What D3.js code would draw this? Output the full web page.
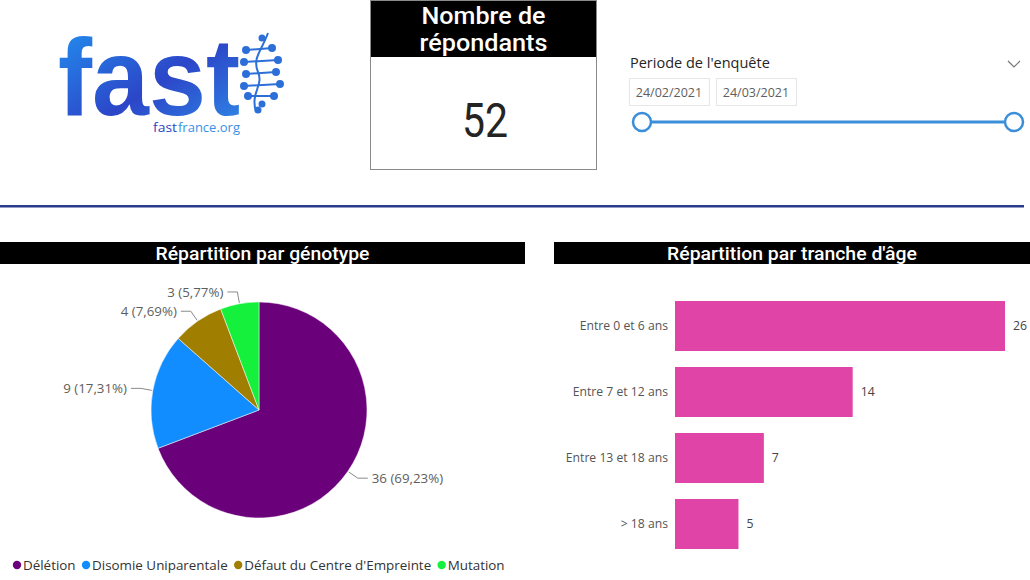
<!DOCTYPE html>
<html><head><meta charset="utf-8">
<script src="https://cdn.jsdelivr.net/npm/d3@7/dist/d3.min.js"></script>
<style>
html,body{margin:0;padding:0;background:#fff;}
svg{display:block;}
</style></head>
<body>
<svg id="chart" width="1030" height="580"></svg>
<script>
// ---------- data ----------
const kpiTitle = ["Nombre de", "répondants"];
const kpiValue = 52;
const slicerTitle = "Periode de l'enquête";
const slicerDates = ["24/02/2021", "24/03/2021"];

const pieTitle = "Répartition par génotype";
const genotypes = ["Délétion", "Disomie Uniparentale", "Défaut du Centre d'Empreinte", "Mutation"];
const genotypeCounts = [36, 9, 4, 3];
const genotypeColors = ["#6B007B", "#118DFF", "#A07E00", "#14F03C"];

const barTitle = "Répartition par tranche d'âge";
const ageGroups = ["Entre 0 et 6 ans", "Entre 7 et 12 ans", "Entre 13 et 18 ans", "> 18 ans"];
const ageCounts = [26, 14, 7, 5];
const barColor = "#E044A7";

// ---------- drawing ----------
const svg = d3.select("#chart");
const FONT = "'Open Sans','Noto Sans',sans-serif";
const HFONT = "Roboto,'Liberation Sans',sans-serif";

// Logo
const defs = svg.append("defs");
const lg = defs.append("linearGradient").attr("id","logoGrad").attr("x1","0").attr("y1","0").attr("x2","1").attr("y2","1");
lg.append("stop").attr("offset","0").attr("stop-color","#2196F3");
lg.append("stop").attr("offset","0.55").attr("stop-color","#2C46C8");
lg.append("stop").attr("offset","1").attr("stop-color","#2F8EEA");
svg.append("text").attr("x",58).attr("y",115).attr("font-family","'Liberation Sans',Arial,sans-serif")
  .attr("font-weight","bold").attr("font-size",110).attr("textLength",182).attr("lengthAdjust","spacingAndGlyphs")
  .attr("fill","url(#logoGrad)").text("fast");
svg.append("text").attr("x",153).attr("y",132).attr("font-family",FONT).attr("font-size",12.5)
  .attr("textLength",24).attr("lengthAdjust","spacingAndGlyphs").attr("fill","#2B45C4").text("fast");
svg.append("text").attr("x",178).attr("y",132).attr("font-family",FONT).attr("font-size",12.5)
  .attr("textLength",62).attr("lengthAdjust","spacingAndGlyphs").attr("fill","#3A8FE6").text("france.org");
// DNA decoration
const dna = svg.append("g").attr("stroke","#2D6FD8").attr("fill","#2D6FD8").attr("stroke-width",2);
dna.append("path").attr("fill","none").attr("d","M268,33 C262,50 252,58 258,72 C264,86 250,92 256,112");
[[246,50,272,48],[244,62,278,60],[246,74,276,72],[244,86,280,84],[248,96,274,96]].forEach(s=>{
  dna.append("line").attr("x1",s[0]).attr("y1",s[1]).attr("x2",s[2]).attr("y2",s[3]);
  dna.append("circle").attr("cx",s[0]).attr("cy",s[1]).attr("r",3);
  dna.append("circle").attr("cx",s[2]).attr("cy",s[3]).attr("r",3);
});
[[262,104],[258,110],[262,38]].forEach(p=>dna.append("circle").attr("cx",p[0]).attr("cy",p[1]).attr("r",2.5));

// KPI card
svg.append("rect").attr("x",370.5).attr("y",0.5).attr("width",226).attr("height",169).attr("fill","#fff").attr("stroke","#8a8a8a");
svg.append("rect").attr("x",371).attr("y",1).attr("width",225).attr("height",56).attr("fill","#000");
svg.selectAll(".kpiT").data(kpiTitle).join("text").attr("class","kpiT")
  .attr("x",483.5).attr("y",(d,i)=>24+i*27).attr("text-anchor","middle").attr("fill","#fff")
  .attr("font-family",HFONT).attr("font-weight",500).attr("font-size",23)
  .attr("textLength",(d,i)=>i===0?124:128).attr("lengthAdjust","spacingAndGlyphs").text(d=>d);
svg.append("text").attr("x",485).attr("y",137).attr("text-anchor","middle").attr("fill","#252423")
  .attr("font-family",HFONT).attr("font-size",48).attr("textLength",46).attr("lengthAdjust","spacingAndGlyphs").text(kpiValue);

// Slicer
svg.append("text").attr("x",630).attr("y",68).attr("font-family",FONT).attr("font-size",14.5).attr("fill","#252423").text(slicerTitle);
svg.append("path").attr("d","M1008,61 L1014,67 L1020,61").attr("fill","none").attr("stroke","#777").attr("stroke-width",1.2);
const dateX = [629, 716];
slicerDates.forEach((d,i)=>{
  svg.append("rect").attr("x",dateX[i]+0.5).attr("y",78.5).attr("width",80).attr("height",27).attr("fill","#fff").attr("stroke","#e6e6e6");
  svg.append("text").attr("x",dateX[i]+40).attr("y",97).attr("text-anchor","middle").attr("font-family",FONT).attr("font-size",12.5).attr("fill","#605E5C").text(d);
});
const sx = d3.scaleLinear().domain([0,1]).range([642,1014]);
svg.append("line").attr("x1",sx(0)).attr("x2",sx(1)).attr("y1",122).attr("y2",122).attr("stroke","#3B8ED8").attr("stroke-width",3);
[0,1].forEach(v=>svg.append("circle").attr("cx",sx(v)).attr("cy",122).attr("r",9).attr("fill","#fff").attr("stroke","#3B8ED8").attr("stroke-width",2.5));

// Separator
svg.append("rect").attr("x",0).attr("y",205).attr("width",1024).attr("height",2.5).attr("fill","#2A3A8C");

// Title bars
function titleBar(x,w,t,tl){
  svg.append("rect").attr("x",x).attr("y",242).attr("width",w).attr("height",22).attr("fill","#000");
  svg.append("text").attr("x",x+w/2).attr("y",260).attr("text-anchor","middle").attr("fill","#fff")
    .attr("font-family",HFONT).attr("font-weight",500).attr("font-size",19)
    .attr("textLength",tl).attr("lengthAdjust","spacingAndGlyphs").text(t);
}
titleBar(0,525,pieTitle,214);
titleBar(554,476,barTitle,250);

// Pie
const cx=259, cy=410, R=108;
const total = d3.sum(genotypeCounts);
const pieData = d3.pie().sort(null).value(d=>d)(genotypeCounts);
const arc = d3.arc().innerRadius(0).outerRadius(R);
const pg = svg.append("g").attr("transform",`translate(${cx},${cy})`);
pg.selectAll("path").data(pieData).join("path").attr("d",arc).attr("fill",(d,i)=>genotypeColors[i])
  .attr("stroke","#fff").attr("stroke-width",0.5);
const fmt = v => (v*100).toFixed(2).replace(".",",")+"%";
pieData.forEach((d,i)=>{
  const a=(d.startAngle+d.endAngle)/2;
  const p0=[Math.sin(a)*(R+1), -Math.cos(a)*(R+1)];
  const p1=[Math.sin(a)*(R+12), -Math.cos(a)*(R+12)];
  const right = Math.sin(a)>0;
  const p2=[p1[0]+(right?10:-10), p1[1]];
  pg.append("polyline").attr("points",[p0,p1,p2].map(p=>p.join(",")).join(" "))
    .attr("fill","none").attr("stroke","#8a8a8a").attr("stroke-width",1);
  pg.append("text").attr("x",p2[0]+(right?4:-4)).attr("y",p2[1]).attr("dy","0.35em")
    .attr("text-anchor",right?"start":"end").attr("font-family",FONT).attr("font-size",13.3).attr("fill","#605E5C")
    .text(`${d.data} (${fmt(d.data/total)})`);
});

// Legend
let lx = 13;
const legG = svg.append("g");
genotypes.forEach((g,i)=>{
  legG.append("circle").attr("cx",lx+4).attr("cy",565).attr("r",4.2).attr("fill",genotypeColors[i]);
  const t = legG.append("text").attr("x",lx+10).attr("y",570).attr("font-family",FONT).attr("font-size",13.4).attr("fill","#333").text(g);
  lx += 10 + t.node().getComputedTextLength() + 6.5;
});

// Bars
const x = d3.scaleLinear().domain([0,26]).range([675,1005]);
const y = d3.scaleBand().domain(ageGroups).range([293,557]).paddingInner(0.2424).paddingOuter(0.1212);
const bg = svg.append("g");
bg.selectAll("rect").data(ageCounts).join("rect")
  .attr("x",x(0)).attr("y",(d,i)=>y(ageGroups[i])).attr("width",d=>x(d)-x(0)).attr("height",y.bandwidth()).attr("fill",barColor);
bg.selectAll(".val").data(ageCounts).join("text").attr("class","val")
  .attr("x",d=>x(d)+8).attr("y",(d,i)=>y(ageGroups[i])+y.bandwidth()/2).attr("dy","0.35em")
  .attr("font-family",FONT).attr("font-size",12.3).attr("fill","#444").text(d=>d);
const yAxis = d3.axisLeft(y).tickSize(0).tickPadding(7);
const ya = svg.append("g").attr("transform",`translate(${x(0)},0)`).call(yAxis);
ya.select(".domain").remove();
ya.selectAll("text").attr("font-family",FONT).attr("font-size",12.2).attr("fill","#555");
</script>
</body></html>
